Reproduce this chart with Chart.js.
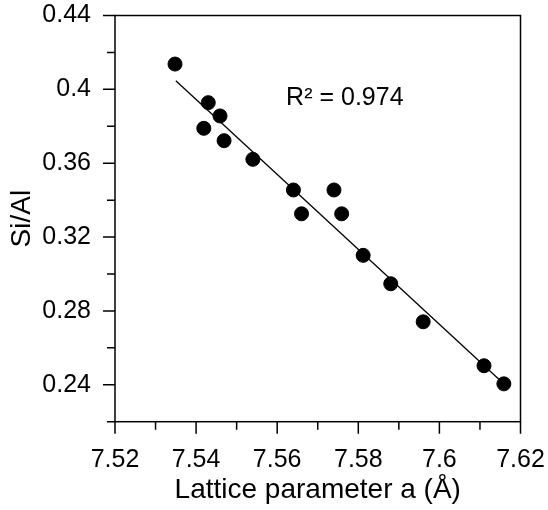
<!DOCTYPE html>
<html>
<head>
<meta charset="utf-8">
<script src="https://cdn.jsdelivr.net/npm/chart.js@4/dist/chart.umd.min.js"></script>
<style>
  html, body { margin: 0; padding: 0; background: #fff; }
  #wrap { width: 548px; height: 510px; }
</style>
</head>
<body>
<div id="wrap"><canvas id="chart" width="548" height="510"></canvas></div>
<script>
// Data
const latticeA = [7.5348, 7.5430, 7.5459, 7.5419, 7.5469, 7.5540, 7.5640, 7.5740, 7.5660, 7.5759, 7.5812, 7.5880, 7.5960, 7.6110, 7.6159];
const siAl = [0.4137, 0.3928, 0.3856, 0.3789, 0.3722, 0.3621, 0.3455, 0.3455, 0.3326, 0.3326, 0.3101, 0.2947, 0.2741, 0.2503, 0.2405];

// Fitted line end points
const fitA = [7.535, 7.616];
const fitSiAl = [0.4047, 0.2403];

// Axis tick labels (minor ticks in between have no label)
const xTickLabels = ['7.52', '7.54', '7.56', '7.58', '7.6', '7.62'];
const yTickLabels = ['0.24', '0.28', '0.32', '0.36', '0.4', '0.44'];

const r2Text = 'R² = 0.974';
const r2At = [7.5622, 0.3916];

const FONT = '"Liberation Sans", Arial, sans-serif';
Chart.defaults.color = '#000';
Chart.defaults.font.family = FONT;

const fmt = v => String(+v.toFixed(2));

// Frame, outside tick marks and the R² note
const frameAndTicks = {
    id: 'frameAndTicks',
    afterDraw(chart) {
        const { ctx, chartArea: a, scales: { x, y } } = chart;
        ctx.save();
        ctx.strokeStyle = '#000';
        ctx.lineWidth = 1.5;
        ctx.strokeRect(a.left, a.top, a.right - a.left, a.bottom - a.top);
        ctx.beginPath();
        x.ticks.forEach(t => {
            const px = x.getPixelForValue(t.value);
            const len = t.label ? 12 : 8;
            ctx.moveTo(px, a.bottom);
            ctx.lineTo(px, a.bottom + len);
        });
        y.ticks.forEach(t => {
            const py = y.getPixelForValue(t.value);
            const len = t.label ? 12 : 8;
            ctx.moveTo(a.left, py);
            ctx.lineTo(a.left - len, py);
        });
        ctx.stroke();

        ctx.font = '25px ' + FONT;
        ctx.fillStyle = '#000';
        ctx.textBaseline = 'alphabetic';
        ctx.textAlign = 'left';
        ctx.fillText(r2Text, x.getPixelForValue(r2At[0]), y.getPixelForValue(r2At[1]));
        ctx.restore();
    }
};

// invisible library ticks, only used to space the labels off the axis
const hiddenGrid = len => ({
    display: true,
    drawOnChartArea: false,
    color: 'rgba(0,0,0,0)',
    tickLength: len
});

new Chart(document.getElementById('chart'), {
    type: 'scatter',
    data: {
        datasets: [
            {
                label: 'Si/Al',
                data: latticeA.map((a, i) => ({ x: a, y: siAl[i] })),
                backgroundColor: '#000',
                borderColor: '#000',
                pointRadius: 7,
                pointHoverRadius: 7
            },
            {
                label: 'fit',
                data: fitA.map((a, i) => ({ x: a, y: fitSiAl[i] })),
                showLine: true,
                borderColor: '#000',
                borderWidth: 1.3,
                pointRadius: 0
            }
        ]
    },
    options: {
        responsive: false,
        animation: false,
        events: [],
        layout: { padding: { top: 15.5, right: 27.5, left: 0, bottom: 0 } },
        plugins: {
            legend: { display: false },
            tooltip: { enabled: false }
        },
        scales: {
            x: {
                type: 'linear',
                min: 7.52,
                max: 7.62,
                afterFit: s => { s.height = 88.3; },
                grid: hiddenGrid(23),
                border: { display: false },
                ticks: {
                    stepSize: 0.01,
                    autoSkip: false,
                    maxRotation: 0,
                    padding: 0,
                    font: { size: 25 },
                    callback: v => xTickLabels.includes(fmt(v)) ? fmt(v) : ''
                },
                title: {
                    display: true,
                    text: 'Lattice parameter a (Å)',
                    font: { size: 28 },
                    padding: { top: 0, bottom: 3 }
                }
            },
            y: {
                min: 0.22,
                max: 0.44,
                afterFit: s => { s.width = 115; },
                grid: hiddenGrid(24),
                border: { display: false },
                ticks: {
                    stepSize: 0.02,
                    autoSkip: false,
                    padding: 0,
                    font: { size: 25 },
                    callback: v => yTickLabels.includes(fmt(v)) ? fmt(v) : ''
                },
                title: {
                    display: true,
                    text: 'Si/Al',
                    font: { size: 28 },
                    padding: { top: 5, bottom: 0 }
                }
            }
        }
    },
    plugins: [frameAndTicks]
});
</script>
</body>
</html>
